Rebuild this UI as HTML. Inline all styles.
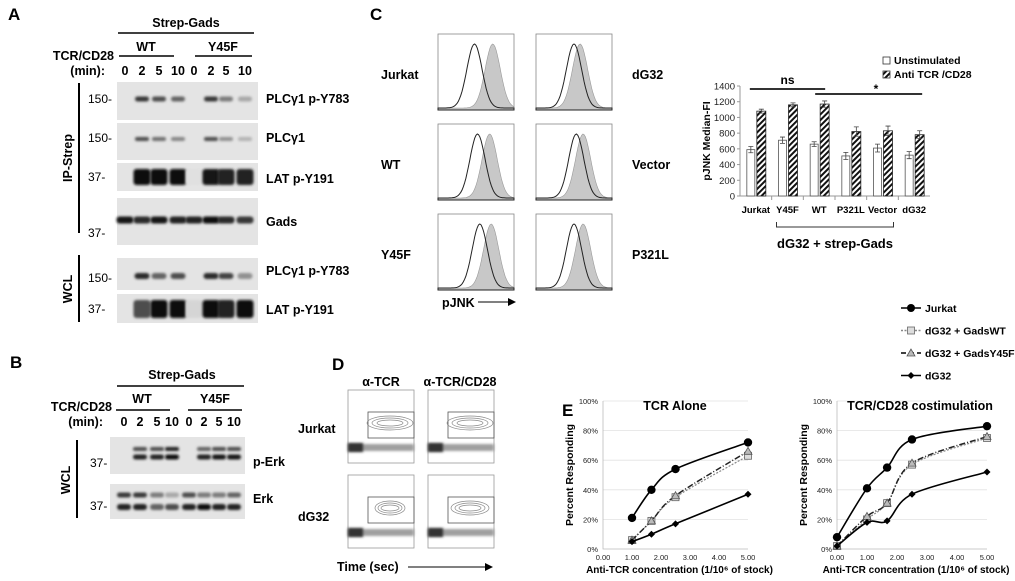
<!DOCTYPE html>
<html><head><meta charset="utf-8"><style>
html,body{margin:0;padding:0;background:#fff;}
svg{display:block;font-family:"Liberation Sans",sans-serif;}
.b{font-weight:bold;}
</style></head><body>
<svg id="fig" width="1015" height="581" viewBox="0 0 1015 581">
<defs>
<filter id="blur" x="-50%" y="-100%" width="200%" height="300%"><feGaussianBlur stdDeviation="1.4"/></filter>
<pattern id="hatch" width="4" height="4" patternUnits="userSpaceOnUse" patternTransform="rotate(45)"><rect width="4" height="4" fill="#fff"/><rect width="2" height="4" fill="#111"/></pattern>
</defs>
<g id="panelA">
<text x="8" y="20" class="b" font-size="17">A</text>
<text x="186" y="27" class="b" font-size="12.5" text-anchor="middle">Strep-Gads</text>
<line x1="118" y1="33" x2="254" y2="33" stroke="#000" stroke-width="1.6"/>
<text x="146" y="51" class="b" font-size="12.5" text-anchor="middle">WT</text>
<line x1="119" y1="56" x2="174" y2="56" stroke="#000" stroke-width="1.6"/>
<text x="223" y="51" class="b" font-size="12.5" text-anchor="middle">Y45F</text>
<line x1="195" y1="56" x2="252" y2="56" stroke="#000" stroke-width="1.6"/>
<text x="114" y="60" class="b" font-size="12.5" text-anchor="end">TCR/CD28</text>
<text x="105" y="75" class="b" font-size="12.5" text-anchor="end">(min):</text>
<line x1="79" y1="83" x2="79" y2="233" stroke="#000" stroke-width="2"/>
<text transform="translate(72,158) rotate(-90)" class="b" font-size="12.5" text-anchor="middle">IP-Strep</text>
<line x1="79" y1="255" x2="79" y2="322" stroke="#000" stroke-width="2"/>
<text transform="translate(72,289) rotate(-90)" class="b" font-size="12.5" text-anchor="middle">WCL</text>
</g>
<g id="panelB">
<text x="10" y="368" class="b" font-size="17">B</text>
<text x="182" y="379" class="b" font-size="12.5" text-anchor="middle">Strep-Gads</text>
<line x1="117" y1="386" x2="244" y2="386" stroke="#000" stroke-width="1.6"/>
<text x="142" y="403" class="b" font-size="12.5" text-anchor="middle">WT</text>
<line x1="116" y1="410" x2="170" y2="410" stroke="#000" stroke-width="1.6"/>
<text x="215" y="403" class="b" font-size="12.5" text-anchor="middle">Y45F</text>
<line x1="188" y1="410" x2="242" y2="410" stroke="#000" stroke-width="1.6"/>
<text x="112" y="411" class="b" font-size="12.5" text-anchor="end">TCR/CD28</text>
<text x="103" y="426" class="b" font-size="12.5" text-anchor="end">(min):</text>
<line x1="77" y1="440" x2="77" y2="518" stroke="#000" stroke-width="2"/>
<text transform="translate(70,480) rotate(-90)" class="b" font-size="12.5" text-anchor="middle">WCL</text>
<text x="90" y="467" font-size="12">37-</text>
<text x="90" y="510" font-size="12">37-</text>
<text x="253" y="466" class="b" font-size="12.5">p-Erk</text>
<text x="253" y="503" class="b" font-size="12.5">Erk</text>
</g>
<g id="panelC">
<text x="370" y="20" class="b" font-size="17">C</text>
<text x="381" y="79" class="b" font-size="12.5">Jurkat</text>
<text x="381" y="169" class="b" font-size="12.5">WT</text>
<text x="381" y="259" class="b" font-size="12.5">Y45F</text>
<text x="632" y="79" class="b" font-size="12.5">dG32</text>
<text x="632" y="169" class="b" font-size="12.5">Vector</text>
<text x="632" y="259" class="b" font-size="12.5">P321L</text>
<text x="442" y="307" class="b" font-size="12.5">pJNK</text>
<line x1="478" y1="302" x2="510" y2="302" stroke="#000" stroke-width="1"/>
<polygon points="516,302 508,298 508,306" fill="#000"/>
</g>
<g id="panelD">
<text x="332" y="370" class="b" font-size="17">D</text>
<text x="381" y="386" class="b" font-size="12.5" text-anchor="middle">α-TCR</text>
<text x="460" y="386" class="b" font-size="12.5" text-anchor="middle">α-TCR/CD28</text>
<text x="298" y="433" class="b" font-size="12.5">Jurkat</text>
<text x="298" y="521" class="b" font-size="12.5">dG32</text>
<text x="337" y="571" class="b" font-size="12.5">Time (sec)</text>
<line x1="408" y1="567" x2="486" y2="567" stroke="#000" stroke-width="1"/>
<polygon points="493,567 485,563 485,571" fill="#000"/>
</g>
<g id="panelE">
<text x="562" y="416" class="b" font-size="17">E</text>
</g>
</svg>
<script>
// ---------- chart data ----------
const barCategories = ["Jurkat","Y45F","WT","P321L","Vector","dG32"];
const unstimValues = [590,710,660,510,610,520];
const unstimErrors = [40,40,30,45,50,45];
const stimValues = [1080,1160,1170,820,830,780];
const stimErrors = [25,25,40,60,60,50];
const barTicks = [0,200,400,600,800,1000,1200,1400];

const leftX = [1,1.67,2.5,5];
const leftJurkat = [21,40,54,72];
const leftGadsWT = [6,19,35,63];
const leftGadsY45F = [6,19,36,66];
const leftDG32 = [5,10,17,37];
const rightX = [0,1,1.67,2.5,5];
const rightJurkat = [8,41,55,74,83];
const rightGadsWT = [2,20,31,57,75];
const rightGadsY45F = [2,22,31,58,76];
const rightDG32 = [2,18,19,37,52];
const lineXTicks = [0,1,2,3,4,5];
const lineYTicks = [0,20,40,60,80,100];

const laneTimes = ["0","2","5","10","0","2","5","10"];
const aPlcP = [0,.8,.7,.6,0,.8,.5,.3];
const aPlc = [0,.7,.55,.45,0,.7,.4,.25];
const aLat = [0,1,1,1,.05,.95,.9,.9];
const aGads = [.95,.85,.95,.9,.9,1,.85,.8];
const aWclPlc = [0,.85,.6,.7,0,.85,.75,.4];
const aWclLat = [0,.7,1,1,.1,1,.9,1];
const bPerkUp = [0,.7,.7,.9,0,.6,.7,.7];
const bPerkLo = [0,.9,.9,1,0,.9,.95,.95];
const bErkUp = [.8,.8,.5,.3,.7,.5,.5,.6];
const bErkLo = [.9,.9,.6,.7,.9,1,.9,.9];
const histNames = ["jurkat","wt","y45f","dg32","vector","p321l"];
const histUnstim = [0.48,0.52,0.55,0.5,0.53,0.5];
const histStim = [0.72,0.68,0.7,0.58,0.62,0.62];

const NS = "http://www.w3.org/2000/svg";
const svg = document.getElementById("fig");
function mk(tag, attrs, parent){
  const e = document.createElementNS(NS, tag);
  for (const k in attrs) e.setAttribute(k, attrs[k]);
  (parent||svg).appendChild(e);
  return e;
}

// ---------- blots ----------
function blotBox(x, y, w, h, name){
  const r = mk("rect",{x:x,y:y,width:w,height:h,fill:"#e4e4e4"});
  
  
}
function bands(lanes, vals, cy, bw, bh, name){
  vals.forEach((v,i)=>{
    if (v<=0.02) return;
    const g = Math.round(235 - v*225);
    const r = mk("rect",{x:lanes[i]-bw/2,y:cy-bh/2,width:bw,height:bh,rx:Math.min(bh/2,3),fill:`rgb(${g},${g},${g})`,filter:"url(#blur)"});
    
    
  });
}
const lanesA = [125,142,159,178,194,211,226,245];
laneTimes.forEach((t,i)=>{
  const tx = mk("text",{x:lanesA[i],y:75,"font-size":12.5,"font-weight":"bold","text-anchor":"middle"});
  tx.textContent = t;
  
  
});
const rowsA = [
  {y:82,h:38,cy:99,bw:14,bh:5,v:aPlcP,mw:"150-",mwy:103,lab:"PLCγ1 p-Y783",ly:103,n:"plcg1-py783-blot"},
  {y:123,h:37,cy:139,bw:14,bh:4,v:aPlc,mw:"150-",mwy:142,lab:"PLCγ1",ly:142,n:"plcg1-blot"},
  {y:163,h:28,cy:177,bw:17,bh:16,v:aLat,mw:"37-",mwy:181,lab:"LAT p-Y191",ly:183,n:"lat-py191-blot"},
  {y:198,h:47,cy:220,bw:17,bh:7,v:aGads,mw:"37-",mwy:237,lab:"Gads",ly:226,n:"gads-blot"},
  {y:258,h:32,cy:276,bw:15,bh:6,v:aWclPlc,mw:"150-",mwy:282,lab:"PLCγ1 p-Y783",ly:275,n:"wcl-plcg1-py783-blot"},
  {y:294,h:29,cy:309,bw:17,bh:18,v:aWclLat,mw:"37-",mwy:313,lab:"LAT p-Y191",ly:314,n:"wcl-lat-py191-blot"}
];
rowsA.forEach(r=>{
  blotBox(117,r.y,141,r.h,r.n);
  bands(lanesA,r.v,r.cy,r.bw,r.bh,"blot-band");
  const m = mk("text",{x:88,y:r.mwy,"font-size":12});
  m.textContent = r.mw;
  
  
  const l = mk("text",{x:266,y:r.ly,"font-size":12.5,"font-weight":"bold"});
  l.textContent = r.lab;
  
  
});
const lanesB = [124,140,157,172,189,204,219,234];
laneTimes.forEach((t,i)=>{
  const tx = mk("text",{x:lanesB[i],y:426,"font-size":12.5,"font-weight":"bold","text-anchor":"middle"});
  tx.textContent = t;
  
  
});
blotBox(110,437,135,37,"p-erk-blot");
bands(lanesB,bPerkUp,449,14,4,"blot-band");
bands(lanesB,bPerkLo,457,14,5,"blot-band");
blotBox(110,484,135,35,"erk-blot");
bands(lanesB,bErkUp,495,14,5,"blot-band");
bands(lanesB,bErkLo,507,14,6,"blot-band");

// ---------- histograms (panel C) ----------
const histBoxes = [[438,34],[438,124],[438,214],[536,34],[536,124],[536,214]];
function histPath(x0,y0,w,h,mu,sd){
  let d = `M${x0},${y0+h}`;
  for (let i=0;i<=60;i++){
    const f=i/60;
    const v = Math.exp(-((f-mu)**2)/(2*sd*sd));
    d += ` L${(x0+f*w).toFixed(1)},${(y0+h-2-v*(h-12)).toFixed(1)}`;
  }
  return d + ` L${x0+w},${y0+h} Z`;
}
histNames.forEach((n,i)=>{
  const [x,y]=histBoxes[i], w=76, h=76;
  const b = mk("rect",{x:x,y:y,width:w,height:h,fill:"#fff",stroke:"#888","stroke-width":0.8});
  
  
  const s = mk("path",{d:histPath(x,y,w,h,histStim[i],0.1),fill:"#c8c8c8",stroke:"#999","stroke-width":0.6});
  
  
  const u = mk("path",{d:histPath(x,y,w,h,histUnstim[i],0.1),fill:"none",stroke:"#222","stroke-width":1});
  
  
});

// ---------- contour plots (panel D) ----------
const contourBoxes = [[348,390],[428,390],[348,475],[428,475]];
const contourGate = [1,1,0.6,0.8];
contourBoxes.forEach((c,i)=>{
  const [x,y]=c, w=66, h=73;
  const b = mk("rect",{x:x,y:y,width:w,height:h,fill:"#fff",stroke:"#999","stroke-width":0.8});
  
  
  const band = mk("rect",{x:x,y:y+h-19,width:w,height:7,fill:"#888",opacity:0.8,filter:"url(#blur)"});
  
  
  const band2 = mk("rect",{x:x,y:y+h-20,width:15,height:9,fill:"#333",filter:"url(#blur)"});
  
  
  const g = mk("rect",{x:x+20,y:y+22,width:w-20,height:26,fill:"none",stroke:"#555","stroke-width":0.8});
  
  
  for (let k=0;k<3;k++){
    const e = mk("ellipse",{cx:x+42,cy:y+33,rx:(20-k*5)*contourGate[i]+3,ry:7-k*2,fill:"none",stroke:"#888","stroke-width":0.7});
    
    
  }
});

// ---------- bar chart ----------
const bx0=740, bx1=930, by0=196, by1=86;
const bY = v => by0 - v/1400*(by0-by1);
const groupW = (bx1-bx0)/barCategories.length;
const bX = i => bx0 + groupW*(i+0.5);
const bAxis = mk("path",{d:`M${bx0},${by1} V${by0} H${bx1}`,fill:"none",stroke:"#999","stroke-width":1});


barTicks.forEach(t=>{
  const tl = mk("text",{x:bx0-5,y:bY(t)+3.5,"font-size":9.5,"text-anchor":"end",fill:"#222"});
  tl.textContent = t;
  
  
  const tk = mk("line",{x1:bx0-3,x2:bx0,y1:bY(t),y2:bY(t),stroke:"#999"});
  
  
});
barCategories.forEach((c,i)=>{
  const cx = bX(i);
  const u = mk("rect",{x:cx-9,y:bY(unstimValues[i]),width:8,height:by0-bY(unstimValues[i]),fill:"#fff",stroke:"#555","stroke-width":0.8});
  
  
  const s = mk("rect",{x:cx+1,y:bY(stimValues[i]),width:9,height:by0-bY(stimValues[i]),fill:"url(#hatch)",stroke:"#222","stroke-width":0.8});
  
  
  [[cx-5,unstimValues[i],unstimErrors[i]],[cx+5.5,stimValues[i],stimErrors[i]]].forEach(([ex,v,e])=>{
    const eb = mk("path",{d:`M${ex},${bY(v+e)} V${bY(v-e)} M${ex-2.5},${bY(v+e)} H${ex+2.5} M${ex-2.5},${bY(v-e)} H${ex+2.5}`,stroke:"#444","stroke-width":0.8,fill:"none"});
    
    
  });
  if (i>0){
    const sep = mk("line",{x1:bx0+groupW*i,x2:bx0+groupW*i,y1:by0,y2:by0+4,stroke:"#999"});
    
    
  }
  const cl = mk("text",{x:cx,y:by0+17,"font-size":9.5,"font-weight":"bold","text-anchor":"middle"});
  cl.textContent = c;
  
  
});
const yt = mk("text",{transform:`translate(710,${(by0+by1)/2}) rotate(-90)`,"font-size":10.5,"font-weight":"bold","text-anchor":"middle"});
yt.textContent = "pJNK Median-FI";


const nsLine = mk("line",{x1:bX(0)-6,x2:bX(2)+6,y1:89,y2:89,stroke:"#333","stroke-width":2});


const nsT = mk("text",{x:(bX(0)+bX(2))/2,y:84,"font-size":12,"font-weight":"bold","text-anchor":"middle"});
nsT.textContent = "ns";


const stLine = mk("line",{x1:bX(2)-4,x2:bX(5)+8,y1:94,y2:94,stroke:"#333","stroke-width":2});


const stT = mk("text",{x:876,y:93,"font-size":12,"font-weight":"bold","text-anchor":"middle"});
stT.textContent = "*";


const brk = mk("path",{d:`M${bX(1)-11},222 V227 H${bX(4)+11} V222`,fill:"none",stroke:"#333","stroke-width":1});


const grp = mk("text",{x:(bX(1)+bX(4))/2,y:248,"font-size":13,"font-weight":"bold","text-anchor":"middle"});
grp.textContent = "dG32 + strep-Gads";


const lg1 = mk("rect",{x:883,y:57,width:7,height:7,fill:"#fff",stroke:"#333","stroke-width":0.8});


const lt1 = mk("text",{x:894,y:64,"font-size":10.5,"font-weight":"bold"});
lt1.textContent = "Unstimulated";


const lg2 = mk("rect",{x:883,y:71,width:7,height:7,fill:"url(#hatch)",stroke:"#333","stroke-width":0.8});


const lt2 = mk("text",{x:894,y:78,"font-size":10.5,"font-weight":"bold"});
lt2.textContent = "Anti TCR /CD28";



// ---------- line charts (panel E) ----------
function smoothPath(pts){
  let d = `M${pts[0][0].toFixed(1)},${pts[0][1].toFixed(1)}`;
  for (let i=0;i<pts.length-1;i++){
    const p0=pts[Math.max(0,i-1)], p1=pts[i], p2=pts[i+1], p3=pts[Math.min(pts.length-1,i+2)];
    const c1=[p1[0]+(p2[0]-p0[0])/6, p1[1]+(p2[1]-p0[1])/6];
    const c2=[p2[0]-(p3[0]-p1[0])/6, p2[1]-(p3[1]-p1[1])/6];
    d += ` C${c1[0].toFixed(1)},${c1[1].toFixed(1)} ${c2[0].toFixed(1)},${c2[1].toFixed(1)} ${p2[0].toFixed(1)},${p2[1].toFixed(1)}`;
  }
  return d;
}
function lineChart(x0, pxPerUnit, xs, series, title, titleX, name){
  const y0=549, y100=401;
  const X = v => x0 + v*pxPerUnit;
  const Y = v => y0 - v/100*(y0-y100);
  lineYTicks.forEach(t=>{
    if (t>0){
      const gl = mk("line",{x1:X(0),x2:X(5),y1:Y(t),y2:Y(t),stroke:"#e2e2e2","stroke-width":0.8});
      
      
    }
    const tl = mk("text",{x:X(0)-5,y:Y(t)+3,"font-size":7.5,"text-anchor":"end",fill:"#222"});
    tl.textContent = t + "%";
    
    
  });
  lineXTicks.forEach(t=>{
    const tl = mk("text",{x:X(t),y:y0+11,"font-size":7.5,"text-anchor":"middle",fill:"#222"});
    tl.textContent = t.toFixed(2);
    
    
  });
  const ax = mk("path",{d:`M${X(0)},${Y(100)} V${y0} H${X(5)}`,fill:"none",stroke:"#bbb","stroke-width":0.8});
  
  
  const tt = mk("text",{x:titleX,y:410,"font-size":12.5,"font-weight":"bold","text-anchor":"middle"});
  tt.textContent = title;
  
  
  const xt = mk("text",{x:(X(0)+X(5))/2+4,y:573,"font-size":10,"font-weight":"bold","text-anchor":"middle"});
  xt.textContent = "Anti-TCR concentration (1/10⁶ of stock)";
  
  
  const yt2 = mk("text",{transform:`translate(${X(0)-30},475) rotate(-90)`,"font-size":10.5,"font-weight":"bold","text-anchor":"middle"});
  yt2.textContent = "Percent Responding";
  
  
  series.forEach(s=>{
    const pts = xs.map((xv,i)=>[X(xv),Y(s.vals[i])]);
    const p = mk("path",{d:smoothPath(pts),fill:"none",stroke:s.color,"stroke-width":s.w,"stroke-dasharray":s.dash,"stroke-linejoin":"round"});
    
    
    pts.forEach(([cx,cy])=>{
      let m;
      if (s.marker==="circle") m = mk("circle",{cx:cx,cy:cy,r:4.2,fill:"#000"});
      else if (s.marker==="square") m = mk("rect",{x:cx-3.5,y:cy-3.5,width:7,height:7,fill:"#ddd",stroke:"#666","stroke-width":0.8});
      else if (s.marker==="triangle") m = mk("polygon",{points:`${cx},${cy-4} ${cx-4},${cy+3} ${cx+4},${cy+3}`,fill:"#bbb",stroke:"#555","stroke-width":0.8});
      else m = mk("polygon",{points:`${cx},${cy-3.5} ${cx+3.5},${cy} ${cx},${cy+3.5} ${cx-3.5},${cy}`,fill:"#000"});
      
      
    });
  });
}
lineChart(603,29,leftX,[
  {key:"gadswt",vals:leftGadsWT,color:"#888",w:1.2,dash:"2,1.5",marker:"square"},
  {key:"gadsy45f",vals:leftGadsY45F,color:"#222",w:1.5,dash:"6,2,1,2",marker:"triangle"},
  {key:"jurkat",vals:leftJurkat,color:"#000",w:1.6,dash:"none",marker:"circle"},
  {key:"dg32",vals:leftDG32,color:"#000",w:1.6,dash:"none",marker:"diamond"}
],"TCR Alone",675,"tcr-alone-chart");
lineChart(837,30,rightX,[
  {key:"gadswt",vals:rightGadsWT,color:"#888",w:1.2,dash:"2,1.5",marker:"square"},
  {key:"gadsy45f",vals:rightGadsY45F,color:"#222",w:1.5,dash:"6,2,1,2",marker:"triangle"},
  {key:"jurkat",vals:rightJurkat,color:"#000",w:1.6,dash:"none",marker:"circle"},
  {key:"dg32",vals:rightDG32,color:"#000",w:1.6,dash:"none",marker:"diamond"}
],"TCR/CD28 costimulation",920,"costim-chart");

const legNames = ["Jurkat","dG32 + GadsWT","dG32 + GadsY45F","dG32"];
const legMarkers = ["circle","square","triangle","diamond"];
const legDash = ["none","2,1.5","5,3","none"];
legNames.forEach((t,i)=>{
  const y = 308 + i*22.5, cx = 911;
  const ln = mk("line",{x1:cx-10,x2:cx+10,y1:y,y2:y,stroke:i===1?"#888":"#000","stroke-width":1.6,"stroke-dasharray":legDash[i]});
  
  
  let m;
  if (legMarkers[i]==="circle") m = mk("circle",{cx:cx,cy:y,r:4,fill:"#000"});
  else if (legMarkers[i]==="square") m = mk("rect",{x:cx-3.5,y:y-3.5,width:7,height:7,fill:"#ddd",stroke:"#666","stroke-width":0.8});
  else if (legMarkers[i]==="triangle") m = mk("polygon",{points:`${cx},${y-4} ${cx-4},${y+3} ${cx+4},${y+3}`,fill:"#bbb",stroke:"#555","stroke-width":0.8});
  else m = mk("polygon",{points:`${cx},${y-3.5} ${cx+3.5},${y} ${cx},${y+3.5} ${cx-3.5},${y}`,fill:"#000"});
  
  
  const lt = mk("text",{x:925,y:y+4,"font-size":10.5,"font-weight":"bold"});
  lt.textContent = t;
  
  
});
</script>
</body></html>
